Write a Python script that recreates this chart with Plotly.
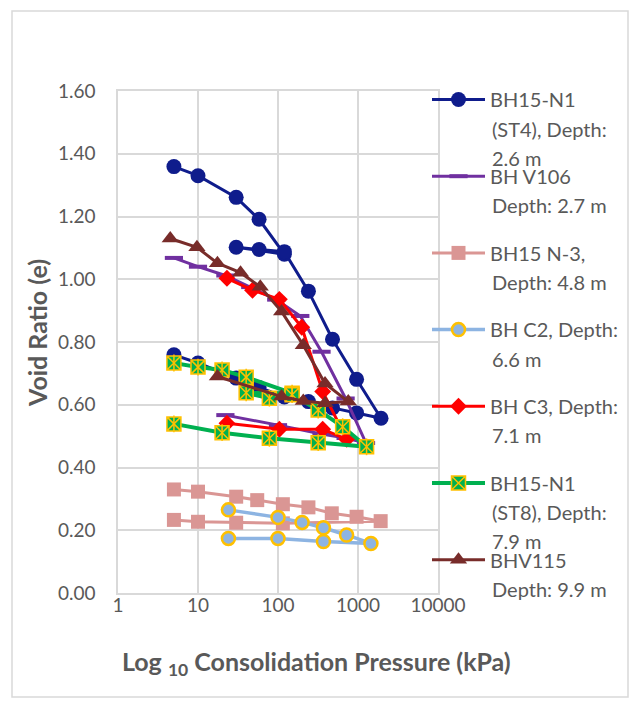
import plotly.graph_objects as go

# ---------------- data (pressure kPa, void ratio e) ----------------
st4_p = [5, 10, 30, 58, 120, 30, 58, 120, 240, 480, 960, 1940, 960, 480, 240, 120, 58, 30, 10, 5]
st4_e = [1.359, 1.330, 1.261, 1.191, 1.080, 1.102, 1.095, 1.088, 0.962, 0.809, 0.681, 0.557,
         0.574, 0.590, 0.610, 0.625, 0.655, 0.685, 0.733, 0.759]

v106_p = [5, 10, 22, 45, 95, 190, 350, 700, 1260, 700, 350, 100, 22]
v106_e = [1.068, 1.040, 1.012, 0.975, 0.935, 0.883, 0.769, 0.620, 0.478, 0.494, 0.507, 0.535, 0.567]

n3_p = [5, 10, 30, 55, 115, 240, 470, 960, 1920, 115, 30, 10, 5]
n3_e = [0.330, 0.323, 0.307, 0.296, 0.283, 0.273, 0.254, 0.243, 0.229, 0.222, 0.224, 0.227, 0.233]

c2_p = [24, 100, 200, 370, 720, 1450, 370, 100, 24]
c2_e = [0.265, 0.241, 0.225, 0.208, 0.185, 0.158, 0.164, 0.174, 0.174]

c3_p = [23, 48, 104, 198, 362, 722, 362, 104, 23]
c3_e = [1.003, 0.965, 0.936, 0.847, 0.642, 0.490, 0.522, 0.522, 0.541]

st8_p = [5, 10, 20, 40, 150, 40, 78, 150, 318, 643, 1280, 318, 78, 20, 5]
st8_e = [0.733, 0.720, 0.711, 0.688, 0.637, 0.638, 0.621, 0.632, 0.583, 0.530, 0.466,
         0.479, 0.493, 0.511, 0.539]

v115_p = [4.5, 9.7, 17.5, 34, 60, 111, 207, 387, 756, 387, 207, 111, 17.5]
v115_e = [1.130, 1.102, 1.051, 1.021, 0.976, 0.897, 0.790, 0.668, 0.610, 0.605, 0.612, 0.626, 0.690]

x_tickvals = [1, 10, 100, 1000, 10000]
x_ticktext = ["1", "10", "100", "1000", "10000"]
y_tickvals = [0.0, 0.2, 0.4, 0.6, 0.8, 1.0, 1.2, 1.4, 1.6]
y_ticktext = ["0.00", "0.20", "0.40", "0.60", "0.80", "1.00", "1.20", "1.40", "1.60"]

# legend: first line is the legend entry, the rest is continuation text
legend_first = ["BH15-N1", "BH V106", "BH15 N-3,", "BH C2, Depth:", "BH C3, Depth:", "BH15-N1", "BHV115"]
legend_rest = [["(ST4), Depth:", "2.6 m"], ["Depth: 2.7 m"], ["Depth: 4.8 m"], ["6.6 m"],
               ["7.1 m"], ["(ST8), Depth:", "7.9 m"], ["Depth: 9.9 m"]]

FONT = "Lato"
GREY = "#595959"
GRID = "#D9D9D9"

W, H = 637, 707
L, R, T, B = 118, 438, 91, 593  # plot area pixel box

LEG_TOP = 80.0       # legend box top (px)
LEG_ITEM_H = 29.0    # plotly legend item height for 20px text
LEG_GAP = 47.7       # gap between legend groups
LEG_PAD = 5.0


def px_x(px):
    return (px - L) / (R - L)


def px_y(py):
    return (B - py) / (B - T)


fig = go.Figure()

fig.add_trace(go.Scatter(x=st4_p, y=st4_e, name=legend_first[0], legendgroup="g1",
                         mode="lines+markers", line=dict(color="#0F1C8C", width=3),
                         marker=dict(symbol="circle", size=15, color="#0F1C8C")))
fig.add_trace(go.Scatter(x=v106_p, y=v106_e, name=legend_first[1], legendgroup="g2",
                         mode="lines+markers", line=dict(color="#7030A0", width=3),
                         marker=dict(symbol="line-ew", size=13, color="#7030A0",
                                     line=dict(color="#7030A0", width=4))))
fig.add_trace(go.Scatter(x=n3_p, y=n3_e, name=legend_first[2], legendgroup="g3",
                         mode="lines+markers", line=dict(color="#DA9694", width=3),
                         marker=dict(symbol="square", size=14, color="#DA9694")))
fig.add_trace(go.Scatter(x=c2_p, y=c2_e, name=legend_first[3], legendgroup="g4",
                         mode="lines+markers", line=dict(color="#8DB4E2", width=3.5),
                         marker=dict(symbol="circle", size=13, color="#8DB4E2",
                                     line=dict(color="#FFC000", width=2.5))))
fig.add_trace(go.Scatter(x=c3_p, y=c3_e, name=legend_first[4], legendgroup="g5",
                         mode="lines+markers", line=dict(color="#FF0000", width=3),
                         marker=dict(symbol="diamond", size=13, color="#FF0000")))
fig.add_trace(go.Scatter(x=st8_p, y=st8_e, name=legend_first[5], legendgroup="g6",
                         mode="lines+markers", line=dict(color="#00B050", width=4),
                         marker=dict(symbol="square-x", size=14, color="#00B050",
                                     line=dict(color="#FFC000", width=1.5))))
fig.add_trace(go.Scatter(x=st8_p, y=st8_e, legendgroup="g6", showlegend=False,
                         mode="markers", hoverinfo="skip",
                         marker=dict(symbol="line-ns-open", size=12, color="#FFC000",
                                     line=dict(color="#FFC000", width=1.5))))
fig.add_trace(go.Scatter(x=v115_p, y=v115_e, name=legend_first[6], legendgroup="g7",
                         mode="lines+markers", line=dict(color="#782C2A", width=3),
                         marker=dict(symbol="triangle-up", size=15, color="#782C2A")))

# continuation lines of the legend labels (aligned with the legend entries)
line_gap = 29
annotations = []
for i, rest in enumerate(legend_rest):
    ey = LEG_TOP + LEG_PAD + LEG_ITEM_H / 2 + i * (LEG_ITEM_H + LEG_GAP)
    for k, txt in enumerate(rest):
        annotations.append(dict(text=txt, xref="paper", yref="paper",
                                x=px_x(490), y=px_y(ey + line_gap * (k + 1)),
                                xanchor="left", yanchor="middle", showarrow=False,
                                font=dict(family=FONT, size=20, color=GREY)))

# axis titles
annotations.append(dict(text="<b>Log <sub>10</sub> Consolidation Pressure (kPa)</b>",
                        xref="paper", yref="paper", x=px_x(316), y=px_y(663),
                        xanchor="center", yanchor="middle", showarrow=False,
                        font=dict(family=FONT, size=25, color=GREY)))
annotations.append(dict(text="<b>Void Ratio (e)</b>", xref="paper", yref="paper",
                        x=px_x(37), y=px_y(333), textangle=-90,
                        xanchor="center", yanchor="middle", showarrow=False,
                        font=dict(family=FONT, size=25, color=GREY)))

fig.update_layout(
    width=W, height=H,
    margin=dict(l=L, r=W - R, t=T, b=H - B, autoexpand=False),
    paper_bgcolor="white", plot_bgcolor="white",
    font=dict(family=FONT, color=GREY),
    showlegend=True,
    legend=dict(x=px_x(427), xanchor="left", yref="container", y=1 - LEG_TOP / H, yanchor="top",
                font=dict(family=FONT, size=20, color=GREY), maxheight=660,
                tracegroupgap=LEG_GAP, itemwidth=53, bgcolor="rgba(0,0,0,0)",
                traceorder="grouped"),
    annotations=annotations,
    shapes=[dict(type="rect", xref="paper", yref="paper",
                 x0=px_x(12), x1=px_x(628), y0=px_y(697), y1=px_y(11),
                 line=dict(color=GRID, width=1.5), fillcolor="rgba(0,0,0,0)", layer="below")],
)

fig.update_xaxes(type="log", range=[0, 4], tickvals=x_tickvals, ticktext=x_ticktext,
                 showgrid=True, gridcolor=GRID, gridwidth=1.5, zeroline=False,
                 showline=True, linecolor=GRID, linewidth=1.5, mirror=True, ticks="",
                 ticklabelstandoff=-6,
                 tickfont=dict(family=FONT, size=19, color=GREY))
fig.update_yaxes(range=[0, 1.6], tickvals=y_tickvals, ticktext=y_ticktext,
                 showgrid=True, gridcolor=GRID, gridwidth=1.5, zeroline=False,
                 showline=True, linecolor=GRID, linewidth=1.5, mirror=True, ticks="",
                 ticklabelstandoff=17,
                 tickfont=dict(family=FONT, size=19, color=GREY))

fig.write_html("out.html", config={"displayModeBar": False},
               post_script="document.body.style.margin='0px';")
